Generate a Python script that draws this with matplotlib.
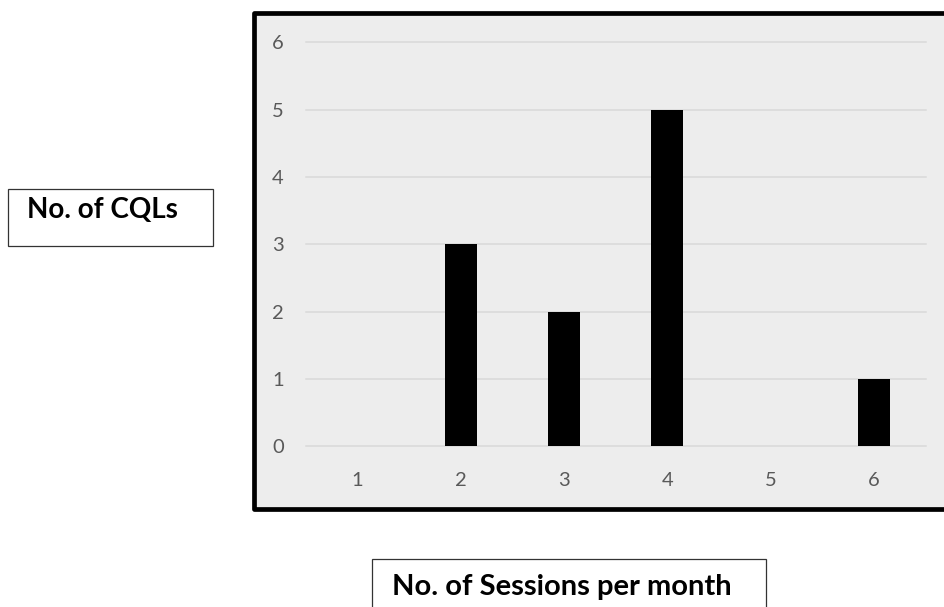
import matplotlib
matplotlib.use("Agg")
import matplotlib.pyplot as plt
from matplotlib.patches import Rectangle

# Daten: Anzahl Sitzungen pro Monat -> Anzahl CQLs
sessions = [1, 2, 3, 4, 5, 6]
cqls = [0, 3, 2, 5, 0, 1]
y_ticks = [0, 1, 2, 3, 4, 5, 6]

W, H = 944, 607
plt.rcParams['font.family'] = ['Lato', 'DejaVu Sans']

fig = plt.figure(figsize=(W / 100, H / 100), dpi=100)
fig.patch.set_facecolor('white')


def fx(px):
    return px / W


def fy(py):
    return 1 - py / H


# grauer Diagrammrahmen mit dicker schwarzer Kante
frame = Rectangle((fx(254.5), fy(508.5)), 1.05 - fx(254.5), fy(13.3) - fy(508.5),
                  transform=fig.transFigure, facecolor='#EDEDED', edgecolor='black',
                  linewidth=3.4, joinstyle='round', zorder=0)
fig.patches.append(frame)

ax = fig.add_axes([fx(306), fy(446.4), fx(925.5) - fx(306), fy(42.3) - fy(446.4)])
ax.set_zorder(2)
ax.set_facecolor('none')
ax.bar(sessions, cqls, width=0.31, color='black', zorder=3)
ax.set_xlim(0.5, 6.5)
ax.set_ylim(0, 6)
ax.set_xticks(sessions)
ax.set_yticks(y_ticks)
ax.yaxis.grid(True, color='#D9D9D9', linewidth=1.1, zorder=1)
for gl in ax.get_ygridlines():
    gl.set_clip_on(False)
ax.set_axisbelow(True)
for s in ax.spines.values():
    s.set_visible(False)
ax.tick_params(axis='both', length=0, labelsize=14.5, labelcolor='#595959')
ax.tick_params(axis='x', pad=18.5)
ax.tick_params(axis='y', pad=16)

# Textfelder ausserhalb des Diagramms
box1 = Rectangle((fx(8), fy(246)), fx(213) - fx(8), fy(189) - fy(246),
                 transform=fig.transFigure, facecolor='white', edgecolor='#333333',
                 linewidth=0.9, zorder=1)
fig.patches.append(box1)
fig.text(fx(27), fy(218), "No. of CQLs", ha='left', va='baseline',
         fontsize=20, fontweight='bold', color='black', zorder=3)

box2 = Rectangle((fx(372), fy(620)), fx(766) - fx(372), fy(559) - fy(620),
                 transform=fig.transFigure, facecolor='white', edgecolor='#333333',
                 linewidth=0.9, zorder=1)
fig.patches.append(box2)
fig.text(fx(392), fy(595), "No. of Sessions per month", ha='left', va='baseline',
         fontsize=21, fontweight='bold', color='black', zorder=3)

fig.savefig("out.png", dpi=100)
